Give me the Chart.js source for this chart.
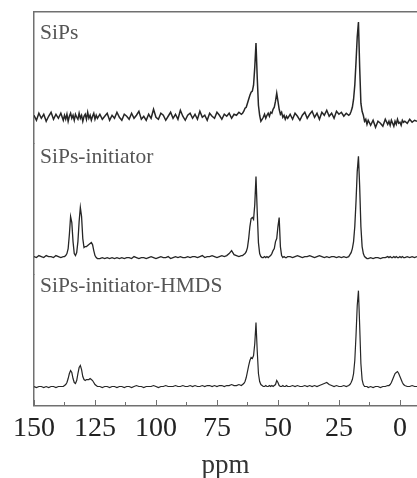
<!DOCTYPE html>
<html>
<head>
<meta charset="utf-8">
<script src="https://cdn.jsdelivr.net/npm/chart.js@4"></script>
<style>
html,body{margin:0;padding:0;background:#fff;}
#wrap{width:417px;height:478px;}
</style>
</head>
<body>
<div id="wrap"><canvas id="c" width="417" height="478"></canvas></div>
<script>
// chemical shift grid (ppm)
const ppm = [
150,149,148,147,146,145,144,143,142,141,140,139,138,
137.5,137,136.5,136,135.5,135,134.5,134,133.5,133,132.5,132,131.5,131,130.5,130,129.5,129,128.5,128,127.5,127,126.5,126,125.5,125,124.5,124,
123,122,121,120,119,118,117,116,115,114,113,112,111,110,109,108,107,106,105,104,103,102,101,100,99,98,97,96,95,94,93,92,91,90,89,88,87,86,85,84,83,82,81,80,79,78,77,76,75,74,73,72,71,70,69,68,67,66,65,
64.5,64,63.5,63,62.5,62,61.5,61,60.5,60,59.5,59,58.5,58,57.5,57,56.5,56,55.5,55,54.5,54,53.5,53,52.5,52,51.5,51,50.5,50,49.5,49,48.5,48,47.5,47,46.5,46,
45,44,43,42,41,40,39,38,37,36,35,34,33,32,31,30,29,28,27,26,25,24,23,22,21,
20.5,20,19.5,19,18.5,18,17.5,17,16.5,16,15.5,15,14.5,14,13.5,13,
12,11,10,9,8,7,6,5,
4.5,4,3.5,3,2.5,2,1.5,1,0.5,0,-0.5,-1,-1.5,-2,
-3,-4,-5,-6,-7
];

// SiPs intensities
const sips = [
2,-3,4,-1,3,-4,1,5,-2,3,-1,4,-3,
2,-2,3,-4,1,4,-1,2,-3,3,0,-2,4,-1,2,-4,1,3,-2,5,-1,2,-3,1,4,-2,2,-1,
3,-2,1,4,-3,2,-1,5,0,-3,3,1,-2,4,-1,2,6,-2,1,-3,3,-1,8,0,-2,4,2,-3,1,5,-1,3,-2,7,1,-3,2,4,-1,3,-2,6,0,2,-3,4,1,-1,5,2,-2,3,1,4,-1,3,2,5,3,
4,6,9,10,14,18,22,25,26,32,50,74,40,12,2,-4,-2,0,3,-1,2,4,1,5,4,8,10,16,24,16,8,3,5,0,2,-2,1,-1,
3,-2,4,1,-3,2,5,-1,3,6,0,4,-2,5,2,7,1,4,-1,6,3,5,1,4,2,
3,6,10,18,32,55,80,95,50,14,6,2,-4,-2,-7,-3,
-8,-3,-10,-4,-6,-9,-2,-7,
-4,-8,-3,-6,-9,-4,-7,-2,-6,-5,-8,-3,-5,-4,
-6,-2,-5,-3,-4
];

// SiPs-initiator intensities
const sipsInit = [
0,-1,1,0,-1,1,0,0,-1,1,0,-1,0,
0,1,3,8,22,40,34,15,3,1,4,15,35,49,40,18,9,10,10,11,12,13,14,12,6,1,-1,-2,
-2,-1,-2,-1,-2,-1,-2,-1,-2,-1,-2,-1,-1,-2,0,-1,-2,-1,-1,-2,-1,0,-1,-2,-1,0,-1,-1,0,-2,-1,0,-1,0,-1,-1,0,-1,0,0,-1,0,1,-1,0,0,1,0,-1,0,1,0,1,3,6,2,1,0,1,
1,2,3,5,9,18,30,38,39,37,52,80,45,14,3,0,-1,-1,0,-1,0,-1,0,1,3,6,8,15,18,30,39,10,1,-1,0,-1,-1,0,
0,-1,0,1,0,-1,0,0,1,0,-1,0,1,0,-1,0,-1,0,0,-1,0,-1,0,-1,0,
2,4,8,15,30,55,85,100,70,30,10,3,0,-1,-2,-2,
-1,-2,-1,-1,-2,-1,-1,0,
-1,0,-1,-1,0,-1,0,-1,-1,0,-1,0,-1,-1,
0,-1,0,-1,0
];

// SiPs-initiator-HMDS intensities
const sipsInitHmds = [
-1,-2,-1,-1,-2,-1,-2,-1,-1,-2,-1,-1,-1,
0,1,3,7,12,15,13,7,3,2,5,12,18,20,16,9,6,5,6,6,6,7,6,5,3,1,0,-1,
-1,-2,-1,-1,-2,-1,-1,-2,-1,-1,-2,-1,-1,-2,-1,0,-1,-1,-2,-1,-1,-1,0,-1,-2,-1,-1,0,-1,-1,-1,0,-1,-1,0,-1,-1,0,-1,0,-1,-1,0,-1,0,0,-1,0,-1,0,0,-1,0,0,1,0,0,1,0,
1,2,4,8,14,20,25,28,27,30,42,63,35,12,4,1,0,-1,-1,0,-1,-1,0,-1,0,-1,0,1,5,3,0,-1,-1,0,-1,-1,0,-1,
-1,0,-1,0,-1,-1,0,-1,0,-1,0,-1,0,1,2,3,1,0,-1,0,-1,-1,0,-1,0,
1,3,6,12,25,50,80,95,60,22,6,1,-1,-1,-1,-2,
-1,-2,-1,-1,-2,-1,-1,0,
0,1,3,6,9,12,13,14,12,9,6,3,1,0,
-1,-1,0,-1,-1
];

const seriesNames = ['SiPs', 'SiPs-initiator', 'SiPs-initiator-HMDS'];
const majorTicks = [150, 125, 100, 75, 50, 25, 0];
const minorTicks = [137.5, 112.5, 87.5, 62.5, 37.5, 12.5];
const xTitle = 'ppm';

const series = [sips, sipsInit, sipsInitHmds];
const axisIds = ['yA', 'yB', 'yC'];
const lineColor = '#262626';
const frameColor = '#707070';
const widths = [1.5, 1.3, 1.2];

const datasets = series.map((vals, i) => ({
  label: seriesNames[i],
  data: ppm.map((p, j) => ({x: p, y: vals[j]})),
  yAxisID: axisIds[i],
  borderColor: lineColor,
  borderWidth: widths[i],
  pointRadius: 0,
  tension: 0,
  fill: false
}));

function yAxis(min, max) {
  return {
    type: 'linear', position: 'left', stack: 'spec', stackWeight: 1,
    min: min, max: max,
    ticks: {display: false},
    grid: {display: false, drawTicks: false},
    border: {display: true, color: frameColor, width: 1.5}
  };
}

const decorPlugin = {
  id: 'decor',
  afterDraw(chart) {
    const ctx = chart.ctx;
    const xs = chart.scales.x;
    const bottom = chart.chartArea.bottom;
    ctx.save();
    ctx.strokeStyle = frameColor;
    ctx.lineWidth = 1;
    majorTicks.forEach(v => {
      const px = Math.round(xs.getPixelForValue(v)) + 0.5;
      ctx.beginPath(); ctx.moveTo(px, bottom); ctx.lineTo(px, bottom - 6); ctx.stroke();
    });
    minorTicks.forEach(v => {
      const px = Math.round(xs.getPixelForValue(v)) + 0.5;
      ctx.beginPath(); ctx.moveTo(px, bottom); ctx.lineTo(px, bottom - 4); ctx.stroke();
    });
    const offs = [21, 14, 12];
    ctx.fillStyle = '#555';
    ctx.font = '21.5px "Liberation Serif", "Times New Roman", serif';
    ctx.textBaseline = 'middle';
    ctx.textAlign = 'left';
    axisIds.forEach((id, i) => {
      const s = chart.scales[id];
      ctx.fillText(seriesNames[i], chart.chartArea.left + 6, s.top + offs[i]);
    });
    ctx.restore();
  }
};

new Chart(document.getElementById('c'), {
  type: 'line',
  data: {datasets: datasets},
  options: {
    responsive: false,
    animation: false,
    events: [],
    layout: {padding: {left: 34, right: 0, top: 12, bottom: -1}},
    plugins: {legend: {display: false}, tooltip: {enabled: false}},
    scales: {
      x: {
        type: 'linear', position: 'bottom', reverse: true, min: -7, max: 150,
        afterBuildTicks: (scale) => { scale.ticks = majorTicks.map(v => ({value: v})); },
        grid: {display: false, drawTicks: false},
        border: {display: true, color: frameColor, width: 1.5},
        ticks: {
          padding: 9, color: '#222', maxRotation: 0, autoSkip: false,
          font: {family: '"Liberation Serif", "Times New Roman", serif', size: 28, lineHeight: 1}
        },
        title: {
          display: true, text: xTitle, color: '#333', padding: {top: 0, bottom: 0},
          font: {family: '"Liberation Serif", "Times New Roman", serif', size: 27, lineHeight: 1}
        }
      },
      xTop: {
        type: 'linear', position: 'top', reverse: true, min: -7, max: 150,
        ticks: {display: false},
        grid: {display: false, drawTicks: false},
        border: {display: true, color: frameColor, width: 1.5}
      },
      // stacked left axes: the last one listed is placed at the top
      yC: yAxis(-20.5, 111),
      yB: yAxis(-18, 113),
      yA: yAxis(-26, 105)
    }
  },
  plugins: [decorPlugin]
});
</script>
</body>
</html>
